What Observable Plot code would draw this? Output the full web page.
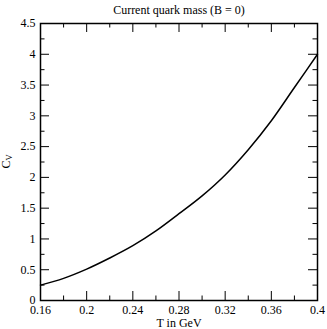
<!DOCTYPE html>
<html>
<head>
<meta charset="utf-8">
<script src="https://cdn.jsdelivr.net/npm/d3@7"></script>
<script src="https://cdn.jsdelivr.net/npm/@observablehq/plot@0.6"></script>
<style>
  html, body { margin: 0; padding: 0; background: #fff; }
  #chart svg { display: block; }
  #chart svg text, #chart svg tspan { font-family: "Liberation Serif", "Times New Roman", serif !important; }
</style>
</head>
<body>
<div id="chart"></div>
<script>
const temperature = [0.16, 0.18, 0.20, 0.22, 0.24, 0.26, 0.28, 0.30, 0.32, 0.34, 0.36, 0.38, 0.40];
const specificHeat = [0.25, 0.36, 0.51, 0.69, 0.89, 1.13, 1.41, 1.70, 2.04, 2.45, 2.92, 3.46, 4.00];
const xTicks = [0.16, 0.2, 0.24, 0.28, 0.32, 0.36, 0.4];
const xMinorTicks = [0.18, 0.22, 0.26, 0.3, 0.34, 0.38];
const yTicks = [0, 0.5, 1, 1.5, 2, 2.5, 3, 3.5, 4, 4.5];
const yMinorTicks = [0.25, 0.75, 1.25, 1.75, 2.25, 2.75, 3.25, 3.75, 4.25];
const titleText = "Current quark mass (B = 0)";
const xLabel = "T in GeV";
const yLabelMain = "C";
const yLabelSub = "V";

const W = 327, H = 329;
const mL = 40, mR = 10, mT = 23, mB = 29;
const innerW = W - mL - mR, innerH = H - mT - mB;
const data = temperature.map((t, i) => ({t, c: specificHeat[i]}));
const font = "Liberation Serif";

const major = 9, minor = 4.5;
const chart = Plot.plot({
  width: W, height: H,
  marginLeft: mL, marginRight: mR, marginTop: mT, marginBottom: mB,
  style: {fontFamily: font, background: "#fff", color: "#000"},
  x: {domain: [0.16, 0.4]},
  y: {domain: [0, 4.5]},
  marks: [
    Plot.tickX(xTicks, {x: d => d, insetTop: innerH - major, stroke: "#000"}),
    Plot.tickX(xTicks, {x: d => d, insetBottom: innerH - major, stroke: "#000"}),
    Plot.tickX(xMinorTicks, {x: d => d, insetTop: innerH - minor, stroke: "#000"}),
    Plot.tickX(xMinorTicks, {x: d => d, insetBottom: innerH - minor, stroke: "#000"}),
    Plot.tickY(yTicks, {y: d => d, insetRight: innerW - major, stroke: "#000"}),
    Plot.tickY(yTicks, {y: d => d, insetLeft: innerW - major, stroke: "#000"}),
    Plot.tickY(yMinorTicks, {y: d => d, insetRight: innerW - minor, stroke: "#000"}),
    Plot.tickY(yMinorTicks, {y: d => d, insetLeft: innerW - minor, stroke: "#000"}),
    Plot.axisX(xTicks, {tickSize: 0, tickPadding: 5, fontSize: 12, fontFamily: font, tickFormat: d => String(d), label: null}),
    Plot.axisY(yTicks, {tickSize: 0, tickPadding: 5, fontSize: 12, fontFamily: font, tickFormat: d => String(d), label: null}),
    Plot.line(data, {x: "t", y: "c", stroke: "#000", strokeWidth: 1.5, curve: "monotone-x"}),
    Plot.frame({stroke: "#000", strokeWidth: 1.5}),
    Plot.text([titleText], {text: d => d, frameAnchor: "top", dy: -10, lineAnchor: "bottom", fontSize: 12, fontFamily: font, fill: "#000"}),
    Plot.text([xLabel], {text: d => d, frameAnchor: "bottom", dy: 26, lineAnchor: "bottom", fontSize: 12, fontFamily: font, fill: "#000"})
  ]
});
document.getElementById("chart").appendChild(chart);

// Y label with subscript
const svg = d3.select(chart);
const yl = svg.append("text")
  .attr("transform", `translate(10,${mT + innerH / 2}) rotate(-90)`)
  .attr("text-anchor", "middle")
  .attr("font-family", font)
  .attr("font-size", 12)
  .attr("fill", "#000");
yl.append("tspan").text(yLabelMain);
yl.append("tspan").attr("font-size", 8.5).attr("dy", 2).text(yLabelSub);
</script>
</body>
</html>
